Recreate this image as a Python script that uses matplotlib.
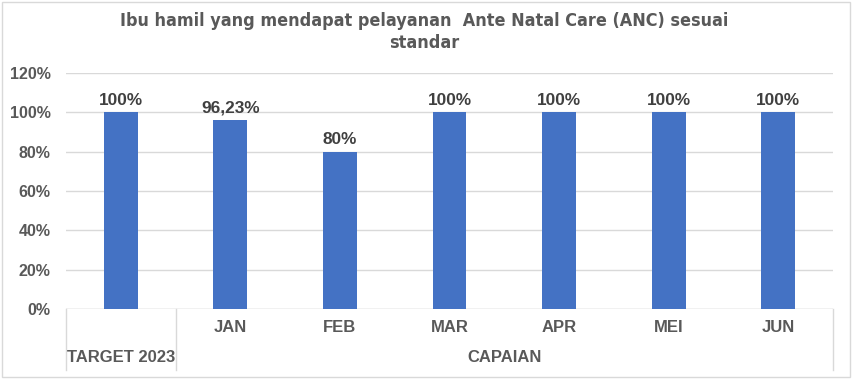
import matplotlib.pyplot as plt
from matplotlib.ticker import FuncFormatter

title = "Ibu hamil yang mendapat pelayanan  Ante Natal Care (ANC) sesuai\nstandar"
months = ["", "JAN", "FEB", "MAR", "APR", "MEI", "JUN"]
values = [100, 96.23, 80, 100, 100, 100, 100]
value_labels = ["100%", "96,23%", "80%", "100%", "100%", "100%", "100%"]
groups = ["TARGET 2023", "CAPAIAN"]
group_sizes = [1, 6]

bar_color = "#4472C4"
text_color = "#595959"
grid_color = "#D9D9D9"
font = "Liberation Sans"

fig = plt.figure(figsize=(8.53, 3.79), dpi=100)
ax = fig.add_axes([66 / 853, 70 / 379, (833 - 66) / 853, (309 - 73) / 379])

x = list(range(len(values)))
ax.bar(x, values, width=0.31, color=bar_color, zorder=3)
for xi, v, lab in zip(x, values, value_labels):
    ax.text(xi, v + 2.4, lab, ha="center", va="bottom", fontsize=12.4,
            fontweight="bold", color="#404040", family=font)

ax.set_xlim(-0.5, len(values) - 0.5)
ax.set_ylim(0, 120)
ax.set_yticks(range(0, 121, 20))
ax.yaxis.set_major_formatter(FuncFormatter(lambda v, p: f"{v:.0f}%"))
ax.grid(axis="y", color=grid_color, linewidth=1, zorder=0)
for s in ["top", "right", "left", "bottom"]:
    ax.spines[s].set_visible(False)
ax.tick_params(axis="y", length=0, pad=11, labelsize=11.5, labelcolor=text_color)
for t in ax.get_yticklabels():
    t.set_fontweight("bold")
    t.set_family(font)
ax.set_xticks([])

# multi-level category axis
ax.axhline(0, color=grid_color, linewidth=1, zorder=1)
trans = ax.get_xaxis_transform()
ax.plot([-0.5, -0.5], [0, -0.26], color=grid_color, linewidth=1, transform=trans, clip_on=False)
start = -0.5
for g, n in zip(groups, group_sizes):
    end = start + n
    ax.plot([end, end], [0, -0.26], color=grid_color, linewidth=1, transform=trans, clip_on=False)
    ax.text((start + end) / 2, -0.205, g, ha="center", va="center", fontsize=12,
            fontweight="bold", color=text_color, transform=trans, family=font)
    start = end
for xi, m in zip(x, months):
    ax.text(xi, -0.08, m, ha="center", va="center", fontsize=12,
            fontweight="bold", color=text_color, transform=trans, family=font)

fig.text(424 / 853, 1 - 32 / 379, title, ha="center", va="center", fontsize=12.9,
         fontweight="bold", color=text_color,
         family=["Liberation Sans Narrow", "DejaVu Sans"],
         fontstretch="condensed", linespacing=1.3)

fig.patches.append(plt.Rectangle((0.002, 0.004), 0.994, 0.99, transform=fig.transFigure,
                                 fill=False, edgecolor=grid_color, linewidth=1))

fig.savefig("out.png", dpi=100)
